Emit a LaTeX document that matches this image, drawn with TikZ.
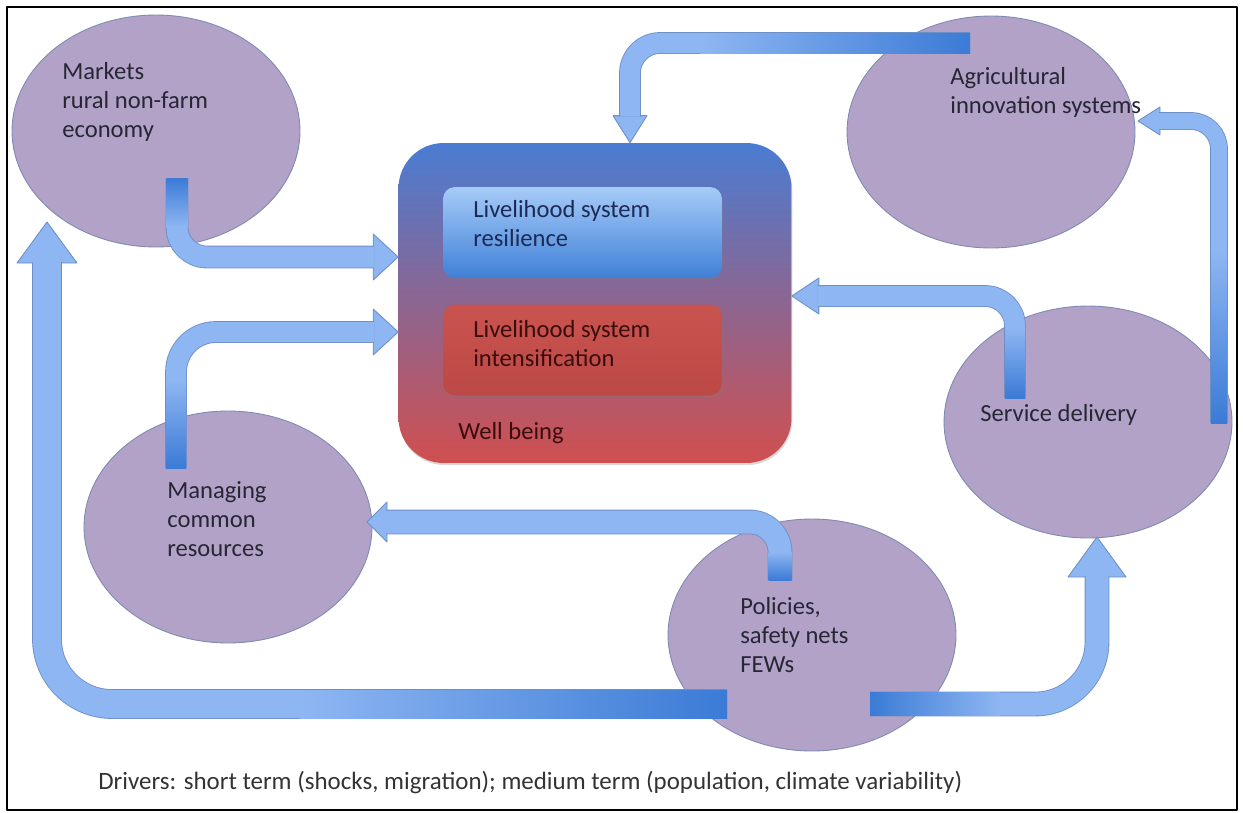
\documentclass[tikz,border=0pt]{standalone}
\usepackage{fontspec}
\setmainfont{Carlito}
\usetikzlibrary{calc,shapes.geometric,shadows}
\definecolor{HubLilac}{HTML}{B2A2C7}
\definecolor{HubRim}{HTML}{7D8AB3}
\definecolor{HubInk}{HTML}{262635}
\definecolor{ArrowLight}{HTML}{8EB6F2}
\definecolor{ArrowDeep}{HTML}{3B7BD6}
\definecolor{ArrowRim}{HTML}{6E8FC6}
\definecolor{WellTop}{HTML}{4A7CD2}
\definecolor{WellBottom}{HTML}{D04F4F}
\definecolor{WellInk}{HTML}{3A0D0D}
\definecolor{ResTop}{HTML}{A6CBF8}
\definecolor{ResBottom}{HTML}{3F80D7}
\definecolor{ResInk}{HTML}{1C2A55}
\definecolor{IntTop}{HTML}{C9534F}
\definecolor{IntBottom}{HTML}{BC4946}

\begin{document}
\begin{tikzpicture}[x=0.02cm,y=-0.02cm,line join=round,
  hub/.style={ellipse,draw=HubRim,line width=0.5pt,fill=HubLilac,
    minimum width=5.76cm,minimum height=4.64cm,inner sep=0pt},
  hubtext/.style={anchor=west,align=left,inner sep=0pt,text=HubInk,
    font=\fontsize{14}{16.5}\selectfont},
  shaft/.style={draw=ArrowRim,double=ArrowLight,line width=0.5pt,line cap=butt},
  headfill/.style={fill=ArrowLight,draw=ArrowRim,line width=0.5pt},
  wellbox/.style={rectangle,rounded corners=0.9cm,minimum width=7.86cm,minimum height=6.4cm,
    top color=WellTop,bottom color=WellBottom,
    drop shadow={shadow xshift=0.5pt,shadow yshift=-1.2pt,opacity=0.3}},
  innerbox/.style={rectangle,rounded corners=0.24cm,minimum width=5.58cm,minimum height=1.82cm,
    drop shadow={shadow xshift=0.4pt,shadow yshift=-1pt,opacity=0.35}}]
  \useasboundingbox (0,0) rectangle (1243,812);
  \draw[line width=1.5pt] (7,7) rectangle (1237,810);

  % outer hubs
  \node[hub] (mkt) at (156,131) {};
  \node[hub] (agri) at (991,132) {};
  \node[hub] (serv) at (1088,422) {};
  \node[hub] (mcr) at (228,527) {};
  \node[hub] (pol) at (812,635) {};

  % well being box
  \node[wellbox] (wb) at (595,303) {};
  \node[innerbox,top color=ResTop,bottom color=ResBottom] (res) at (582.5,232.5) {};
  \node[innerbox,top color=IntTop,bottom color=IntBottom] (int) at (582.5,350) {};

  % markets -> well being
  \coordinate (mktOut) at (177,178); \coordinate (mktIn) at (wb.west |- 0,257);
  \draw[headfill] (mktIn) -- ++(-25,-23) -- ++(0,46) -- cycle;
  \draw[shaft,double distance=4.2mm,rounded corners=6mm] (mktOut) -- (mktOut |- mktIn) -- ($(mktIn)+(-24,0)$);
  \shade[top color=ArrowDeep,bottom color=ArrowLight] ($(mktOut)+(-10.5,0)$) rectangle ($(mktOut)+(10.5,49)$);

  % common resources -> well being
  \coordinate (mcrOut) at (176,468); \coordinate (mcrIn) at (wb.west |- 0,332);
  \draw[headfill] (mcrIn) -- ++(-25,-23) -- ++(0,46) -- cycle;
  \draw[shaft,double distance=4mm,rounded corners=8mm] (mcrOut) -- (mcrOut |- mcrIn) -- ($(mcrIn)+(-24,0)$);
  \shade[top color=ArrowLight,bottom color=ArrowDeep] ($(mcrOut)+(-10,-88)$) rectangle ($(mcrOut)+(10,0)$);

  % innovation -> well being
  \coordinate (agriOut) at (970,43); \coordinate (agriIn) at (630,0 |- wb.north);
  \draw[headfill] (agriIn) -- ++(-17,-27) -- ++(34,0) -- cycle;
  \draw[shaft,double distance=4mm,rounded corners=6mm] (agriOut) -- (agriIn |- agriOut) -- ($(agriIn)+(0,-26)$);
  \shade[left color=ArrowLight,right color=ArrowDeep] ($(agriOut)+(-270,-10)$) rectangle ($(agriOut)+(0,10)$);

  % service -> well being
  \coordinate (servOut) at (1015,398); \coordinate (servIn) at (wb.east |- 0,296);
  \draw[headfill] (servIn) -- ++(27,-18) -- ++(0,36) -- cycle;
  \draw[shaft,double distance=4mm,rounded corners=6mm] (servOut) -- (servOut |- servIn) -- ($(servIn)+(26,0)$);
  \shade[top color=ArrowLight,bottom color=ArrowDeep] ($(servOut)+(-10,-70)$) rectangle ($(servOut)+(10,0)$);

  % service -> innovation
  \coordinate (servUp) at (1219,423); \coordinate (agriEnd) at (1138,121);
  \draw[headfill] (agriEnd) -- ++(22,-14) -- ++(0,28) -- cycle;
  \draw[shaft,double distance=3.2mm,rounded corners=5.6mm] (servUp) -- (servUp |- agriEnd) -- ($(agriEnd)+(21,0)$);
  \shade[top color=ArrowLight,bottom color=ArrowDeep] ($(servUp)+(-8,-173)$) rectangle ($(servUp)+(8,0)$);

  % policies -> common resources
  \coordinate (polUp) at (780,580); \coordinate (mcrEnd) at (367,522);
  \draw[headfill] (mcrEnd) -- ++(20,-20) -- ++(0,40) -- cycle;
  \draw[shaft,double distance=4.6mm,rounded corners=6mm] (polUp) -- (polUp |- mcrEnd) -- ($(mcrEnd)+(19,0)$);
  \shade[top color=ArrowLight,bottom color=ArrowDeep] ($(polUp)+(-11.5,-28)$) rectangle ($(polUp)+(11.5,0)$);

  % policies -> markets
  \coordinate (polLeft) at (727,704); \coordinate (mktEnd) at (47,222);
  \draw[headfill] (mktEnd) -- ++(-30,41) -- ++(60,0) -- cycle;
  \draw[shaft,double distance=5.6mm,rounded corners=1.3cm] (polLeft) -- (mktEnd |- polLeft) -- ($(mktEnd)+(0,40)$);
  \shade[left color=ArrowLight,right color=ArrowDeep] ($(polLeft)+(-427,-14)$) rectangle ($(polLeft)+(0,14)$);

  % policies -> service
  \coordinate (polRight) at (870,704); \coordinate (servEnd) at (1097,537);
  \draw[headfill] (servEnd) -- ++(-29,40) -- ++(58,0) -- cycle;
  \draw[shaft,double distance=4.6mm,rounded corners=1.24cm] (polRight) -- (servEnd |- polRight) -- ($(servEnd)+(0,39)$);
  \shade[left color=ArrowDeep,right color=ArrowLight] ($(polRight)+(0,-11.5)$) rectangle ($(polRight)+(130,11.5)$);

  % texts
  \node[hubtext] (mktText) at (62,102) {Markets\\rural non-farm\\economy};
  \node[hubtext] (agriText) at (950,92) {Agricultural\\innovation systems};
  \node[hubtext] (servText) at (980,415) {Service delivery};
  \node[hubtext] (mcrText) at (167,519) {Managing\\common\\resources};
  \node[hubtext] (polText) at (740,635) {Policies,\\safety nets\\FEWs};
  \node[hubtext,text=ResInk] (resText) at (473,224) {Livelihood system\\resilience};
  \node[hubtext,text=WellInk] (intText) at (473,344) {Livelihood system\\intensification};
  \node[hubtext,text=WellInk] (wbText) at (458,433) {Well being};
  \node[hubtext,text=black!80,font=\fontsize{14.2}{17}\selectfont] (driversText) at (98,783)
    {Drivers: short term (shocks, migration); medium term (population, climate variability)};
\end{tikzpicture}
\end{document}
